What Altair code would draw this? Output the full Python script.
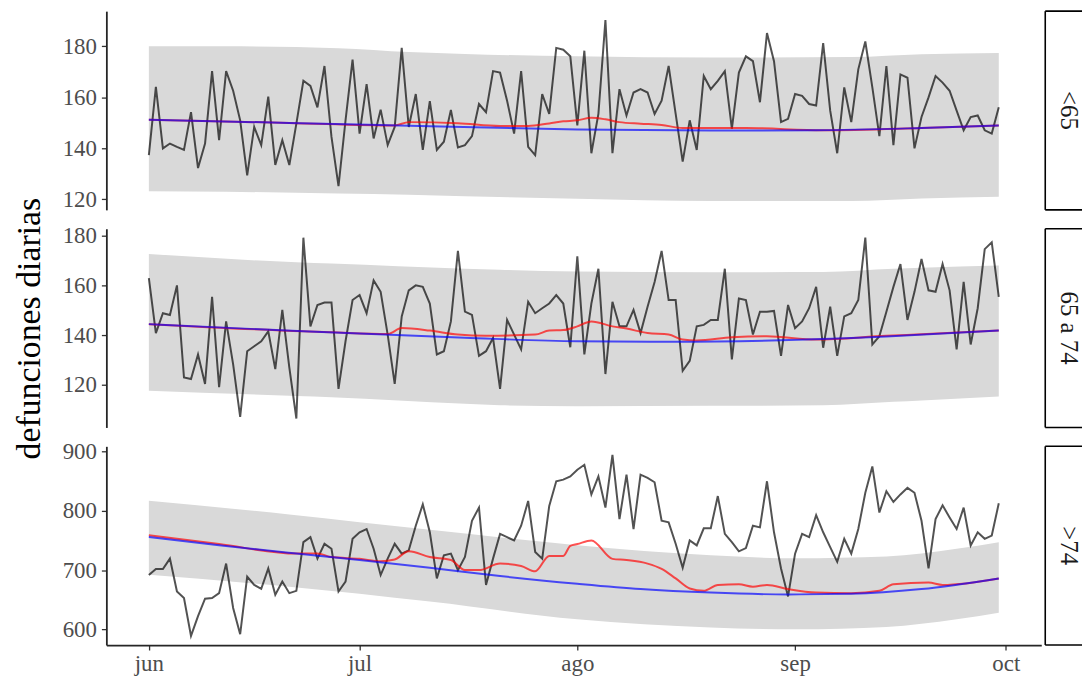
import altair as alt
import pandas as pd

# ---------------- data ----------------
start_date = "2020-06-01"
n_days = 122
dates = pd.date_range(start_date, periods=n_days)
day_index = [(d - dates[0]).days for d in dates]

month_labels = ["jun", "jul", "ago", "sep", "oct"]
month_days = [0, 30, 61, 92, 122]

groups = ["<65", "65 a 74", ">74"]

# observed daily deaths
obs_lt65 = [137.4,164.1,140.0,141.9,140.6,139.4,154.2,132.3,141.9,170.3,
            143.2,170.3,162.6,151.0,129.4,148.4,141.3,160.3,133.5,143.2,
            133.5,149.7,166.5,164.5,156.1,172.3,144.5,125.2,151.0,174.8,
            145.8,165.2,143.9,155.2,141.3,148.4,179.4,148.4,161.3,139.4,
            158.5,139.4,142.6,155.1,140.4,141.3,144.8,157.4,154.2,170.3,
            169.7,158.7,145.8,170.3,140.6,137.4,161.3,153.5,179.4,178.7,
            176.1,149.0,178.3,138.1,153.5,190.3,138.1,163.2,152.9,161.9,
            163.2,161.9,153.5,158.7,172.3,153.5,134.8,151.0,139.4,168.4,
            163.2,166.5,170.3,147.7,169.7,176.1,174.2,158.1,185.2,174.2,
            150.3,151.6,161.3,160.6,157.4,156.8,181.3,154.8,138.1,163.9,
            150.3,171.0,181.9,163.9,144.8,172.3,141.3,169.0,167.7,140.0,
            152.3,160.0,168.4,165.8,162.6,154.8,147.1,152.3,152.9,147.1,
            145.8,156.1]
obs_65_74 = [163.0,140.9,148.9,148.2,160.1,123.0,122.4,132.3,120.4,155.5,
             119.1,145.6,128.3,107.2,133.6,135.6,137.6,141.6,126.4,150.2,
             127.0,106.5,179.3,143.6,152.2,153.2,153.2,118.4,137.6,154.2,
             156.2,148.9,162.1,157.5,140.3,120.4,147.6,158.1,160.1,159.5,
             152.8,132.3,133.6,145.6,174.0,149.5,148.2,131.7,133.6,138.9,
             118.4,146.2,140.3,134.3,153.5,148.9,150.9,152.8,156.2,152.8,
             135.2,171.8,132.3,152.8,166.8,124.4,153.5,143.6,143.6,150.2,
             140.9,151.5,161.5,174.0,154.2,154.2,125.7,129.7,143.6,144.2,
             146.2,146.2,166.8,130.3,154.8,154.2,140.3,149.5,149.5,149.8,
             131.7,152.2,142.9,145.6,150.9,159.5,135.0,151.5,131.7,147.6,
             148.9,154.2,179.3,136.3,139.6,149.5,159.5,168.7,146.2,157.5,
             170.7,158.1,157.5,168.7,158.1,134.3,161.5,136.3,150.9,174.7,
             177.4,155.5]
obs_gt74 = [691.7,701.7,701.7,719.4,663.9,652.8,588.9,622.2,651.7,652.8,
            661.1,711.1,636.1,591.7,688.9,675.0,668.3,702.8,658.3,680.6,
            661.1,665.0,747.2,755.6,719.4,744.4,736.1,663.9,680.6,752.8,
            763.9,769.4,736.1,691.7,719.4,744.4,727.8,733.3,775.0,811.1,
            763.9,686.1,725.0,727.8,700.0,722.2,783.3,805.6,675.0,719.4,
            761.1,755.6,750.0,775.0,816.7,730.6,719.4,808.3,850.0,852.8,
            858.3,869.4,877.8,827.8,858.3,805.6,894.4,786.1,861.1,769.4,
            861.1,855.6,848.3,783.3,780.6,744.4,703.9,750.0,741.7,770.6,
            770.6,825.0,761.1,747.2,731.7,737.2,775.0,772.2,850.0,763.9,
            702.8,655.6,727.8,761.1,755.6,792.8,763.9,738.9,713.9,752.8,
            727.8,769.4,830.6,875.0,797.2,833.3,815.0,827.8,838.9,830.6,
            783.3,702.8,786.1,809.4,788.9,769.4,805.6,741.7,763.9,752.8,
            758.3,812.8]

# expected baseline (blue)
base_days_lt65 = [0, 20, 40, 61, 80, 95, 110, 121]
base_lt65 = [151.2, 150.0, 148.7, 147.4, 147.0, 147.1, 148.0, 149.0]
base_days_65_74 = [0, 22, 45, 61, 75, 90, 105, 121]
base_65_74 = [144.5, 141.6, 139.0, 137.6, 137.4, 138.0, 139.5, 141.9]
base_days_gt74 = [0, 10, 21, 30, 40, 50, 61, 70, 80, 91, 100, 110, 121]
base_gt74 = [756, 742, 728, 717, 704, 690, 677, 668, 662, 659, 660, 668, 686]

# estimate with temperature effect (red)
est_days_lt65 = [0, 20, 35, 37, 44, 50, 54, 57, 59, 61, 63, 65, 67, 70, 73, 76, 85, 96, 110, 121]
est_lt65 = [151.2, 150.0, 149.0, 150.3, 149.9, 148.8, 148.8, 149.8, 150.6, 151.0,
            152.0, 151.4, 150.3, 149.7, 149.2, 148.0, 148.0, 147.1, 148.0, 149.0]
est_days_65_74 = [0, 22, 26, 34, 36, 40, 44, 48, 55, 57, 59, 61, 63, 66, 68, 71, 74, 76, 78, 83,
                  88, 95, 105, 110, 121]
est_65_74 = [144.5, 141.6, 141.2, 140.5, 142.9, 141.9, 140.3, 139.8, 140.3, 141.9,
             142.1, 143.6, 145.6, 143.6, 142.7, 140.9, 140.3, 138.3, 137.9, 139.2,
             139.6, 138.3, 139.8, 140.4, 141.9]
est_days_gt74 = [0, 10, 21, 24, 26, 30, 33, 35, 37, 40, 43, 45, 47, 50, 53, 55, 57, 59, 60, 61,
                 63, 66, 68, 71, 73, 75, 77, 79, 81, 84, 86, 88, 91, 95, 100, 104, 106, 111, 113, 121]
est_gt74 = [759, 744, 728, 728, 722, 719, 715, 718, 732, 722,
            717, 700, 700, 711, 707, 698, 724, 724, 741, 744,
            750, 719, 717, 711, 702, 686, 669, 665, 675, 676,
            672, 675, 668, 662, 661, 665, 676, 679, 675, 686]

# prediction band (grey)
band_days_lt65 = [0, 11, 27, 37, 45, 61, 80, 100, 110, 121]
band_hi_lt65 = [180.0, 180.0, 179.3, 177.8, 177.0, 176.1, 175.6, 175.8, 176.9, 177.4]
band_lo_lt65 = [123.2, 123.0, 122.3, 121.8, 121.2, 120.3, 119.4, 119.4, 120.4, 121.0]
band_days_65_74 = [0, 21, 26, 45, 50, 61, 80, 96, 106, 110, 121]
band_hi_65_74 = [172.7, 169.4, 168.9, 166.8, 166.4, 165.7, 165.4, 165.5, 166.8, 167.2, 168.1]
band_lo_65_74 = [117.7, 115.6, 115.1, 112.4, 111.8, 111.4, 111.6, 111.8, 113.2, 113.8, 115.4]
band_days_gt74 = [0, 20, 40, 61, 80, 92, 105, 115, 121]
band_hi_gt74 = [817, 794, 768, 742, 725, 720, 723, 736, 747]
band_lo_gt74 = [692, 672, 647, 617, 603, 600, 604, 617, 628]

y_domains = [[115.9, 193.8], [102.9, 182.9], [573.5, 909.0]]
y_ticks = [[120, 140, 160, 180], [120, 140, 160, 180], [600, 700, 800, 900]]

# ---------------- chart ----------------
W = 941
H = 200
FONT = "Liberation Serif"

label_expr = " : ".join(
    f"datum.value == {d} ? '{m}'" for d, m in zip(month_days, month_labels)
) + " : ''"


def panel(label, obs, bdays, bhi, blo, edays, est, ldays, base, ydom, yt, show_x, title):
    if show_x:
        xaxis = alt.Axis(values=month_days, labelExpr=label_expr, title=None,
                         labelPadding=3)
    else:
        xaxis = None
    xenc = alt.X("day:Q", scale=alt.Scale(domain=[-6.05, 127.05], nice=False, zero=False),
                 axis=xaxis)
    yenc = alt.Y("v:Q", scale=alt.Scale(domain=ydom, nice=False, zero=False),
                 axis=alt.Axis(values=yt, title=title, titleFont=FONT, titleFontSize=34,
                               titleFontWeight="normal", titleColor="black",
                               titlePadding=16))

    band_df = pd.DataFrame({"day": bdays, "v": bhi, "v2": blo})
    obs_df = pd.DataFrame({"day": day_index, "v": obs})
    est_df = pd.DataFrame({"day": edays, "v": est})
    base_df = pd.DataFrame({"day": ldays, "v": base})
    s_df = pd.DataFrame({"label": [label]})

    band = alt.Chart(band_df).mark_area(color="#d9d9d9", interpolate="monotone").encode(
        x=xenc, y=yenc, y2="v2:Q")
    line_obs = alt.Chart(obs_df).mark_line(color="black", opacity=0.68, strokeWidth=2.0).encode(
        x=xenc, y=yenc)
    line_est = alt.Chart(est_df).mark_line(color="#ff0000", opacity=0.68, strokeWidth=2,
                                           interpolate="monotone").encode(x=xenc, y=yenc)
    line_base = alt.Chart(base_df).mark_line(color="#0000ff", opacity=0.68, strokeWidth=2,
                                             interpolate="monotone").encode(x=xenc, y=yenc)

    sx0, sx1 = W + 4, W + 41
    top = alt.Chart(s_df).mark_rule(color="black", strokeWidth=1.6).encode(
        x=alt.value(sx0), x2=alt.value(sx1), y=alt.value(0))
    bottom = alt.Chart(s_df).mark_rule(color="black", strokeWidth=1.6).encode(
        x=alt.value(sx0), x2=alt.value(sx1), y=alt.value(H))
    left = alt.Chart(s_df).mark_rule(color="black", strokeWidth=1.6).encode(
        x=alt.value(sx0), y=alt.value(0), y2=alt.value(H))
    txt = alt.Chart(s_df).mark_text(angle=90, font=FONT, fontSize=25, color="#1a1a1a",
                                    align="center", baseline="middle").encode(
        x=alt.value(W + 28), y=alt.value(H / 2), text="label:N")

    return alt.layer(band, line_obs, line_est, line_base, top, bottom, left, txt).properties(
        width=W, height=H)


p1 = panel(groups[0], obs_lt65, band_days_lt65, band_hi_lt65, band_lo_lt65,
           est_days_lt65, est_lt65, base_days_lt65, base_lt65, y_domains[0], y_ticks[0],
           False, None)
p2 = panel(groups[1], obs_65_74, band_days_65_74, band_hi_65_74, band_lo_65_74,
           est_days_65_74, est_65_74, base_days_65_74, base_65_74, y_domains[1], y_ticks[1],
           False, "defunciones diarias")
p3 = panel(groups[2], obs_gt74, band_days_gt74, band_hi_gt74, band_lo_gt74,
           est_days_gt74, est_gt74, base_days_gt74, base_gt74, y_domains[2], y_ticks[2],
           True, None)

chart = alt.vconcat(p1, p2, p3, spacing=19, bounds="flush").properties(
    padding={"left": 4, "top": 0, "right": 0, "bottom": 0}
).configure_view(stroke=None).configure_axis(
    grid=False,
    domainColor="#262626",
    domainWidth=1.8,
    tickColor="#333333",
    tickWidth=1.3,
    tickSize=5,
    labelFont=FONT,
    labelFontSize=23,
    labelColor="#4d4d4d",
    labelPadding=5,
)

chart.save("out.html", embed_options={"renderer": "svg", "actions": False})
